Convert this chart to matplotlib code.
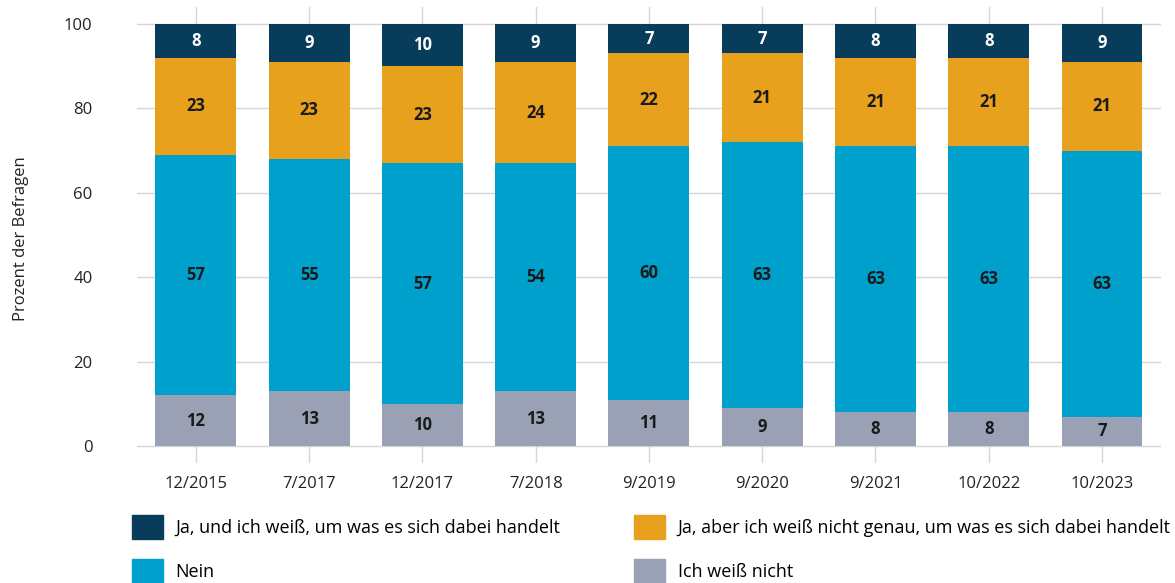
import numpy as np
import matplotlib
matplotlib.use('Agg')
import matplotlib.pyplot as plt
from matplotlib.patches import Patch

plt.rcParams['font.family'] = ['Open Sans', 'DejaVu Sans']

# Daten
zeitpunkte = ['12/2015', '7/2017', '12/2017', '7/2018', '9/2019',
              '9/2020', '9/2021', '10/2022', '10/2023']
weiss_nicht = [12, 13, 10, 13, 11, 9, 8, 8, 7]
nein = [57, 55, 57, 54, 60, 63, 63, 63, 63]
ja_ungenau = [23, 23, 23, 24, 22, 21, 21, 21, 21]
ja_genau = [8, 9, 10, 9, 7, 7, 8, 8, 9]

serien = [
    ('Ich weiß nicht', weiss_nicht, '#9aa1b4', '#1a1a1a'),
    ('Nein', nein, '#00a0cc', '#1a1a1a'),
    ('Ja, aber ich weiß nicht genau, um was es sich dabei handelt', ja_ungenau, '#e8a11c', '#1a1a1a'),
    ('Ja, und ich weiß, um was es sich dabei handelt', ja_genau, '#073c5b', 'white'),
]

fig = plt.figure(figsize=(11.75, 5.83), dpi=100)
ax = fig.add_axes([0.1166, 0.2058, 0.988 - 0.1166, 0.988 - 0.2058])

x = np.arange(len(zeitpunkte))
unten = np.zeros(len(zeitpunkte))
for name, werte, farbe, textfarbe in serien:
    werte = np.array(werte)
    bars = ax.bar(x, werte, bottom=unten, width=0.715, color=farbe, zorder=3)
    for xi, b, w in zip(x, unten, werte):
        ax.text(xi, b + w / 2, str(w), ha='center', va='center',
                color=textfarbe, fontsize=12, fontweight='bold', zorder=4)
    unten = unten + werte

ax.set_xlim(-0.52, len(zeitpunkte) - 0.48)
ax.set_ylim(-4, 104)
ax.set_yticks([0, 20, 40, 60, 80, 100])
ax.set_xticks(x)
ax.set_xticklabels(zeitpunkte)

# Gitterlinien
for yv in [0, 20, 40, 60, 80, 100]:
    ax.axhline(yv, color='#d6d6d6', lw=1, zorder=1)
for xi in x:
    ax.axvline(xi, color='#d6d6d6', lw=1, zorder=1)

for s in ax.spines.values():
    s.set_visible(False)
ax.tick_params(axis='both', length=0, labelsize=12, colors='#222222')
ax.tick_params(axis='y', pad=32)
ax.tick_params(axis='x', pad=9)
for lbl in ax.get_yticklabels():
    lbl.set_horizontalalignment('right')

fig.text(0.018, 0.59, 'Prozent der Befragen', rotation=90, ha='center',
         va='center', fontsize=12, color='#222222')

# Legende
handles = {name: Patch(color=farbe) for name, _, farbe, _ in serien}
reihenfolge = ['Ja, und ich weiß, um was es sich dabei handelt', 'Nein',
               'Ja, aber ich weiß nicht genau, um was es sich dabei handelt',
               'Ich weiß nicht']
fig.legend([handles[n] for n in reihenfolge], reihenfolge, ncol=2,
           loc='upper left', bbox_to_anchor=(0.1125, 0.117), frameon=False,
           fontsize=13, handlelength=1.7, handleheight=1.7,
           handletextpad=0.7, columnspacing=4.1, labelspacing=1.1,
           borderaxespad=0, borderpad=0)

fig.savefig('out.png', dpi=100)
